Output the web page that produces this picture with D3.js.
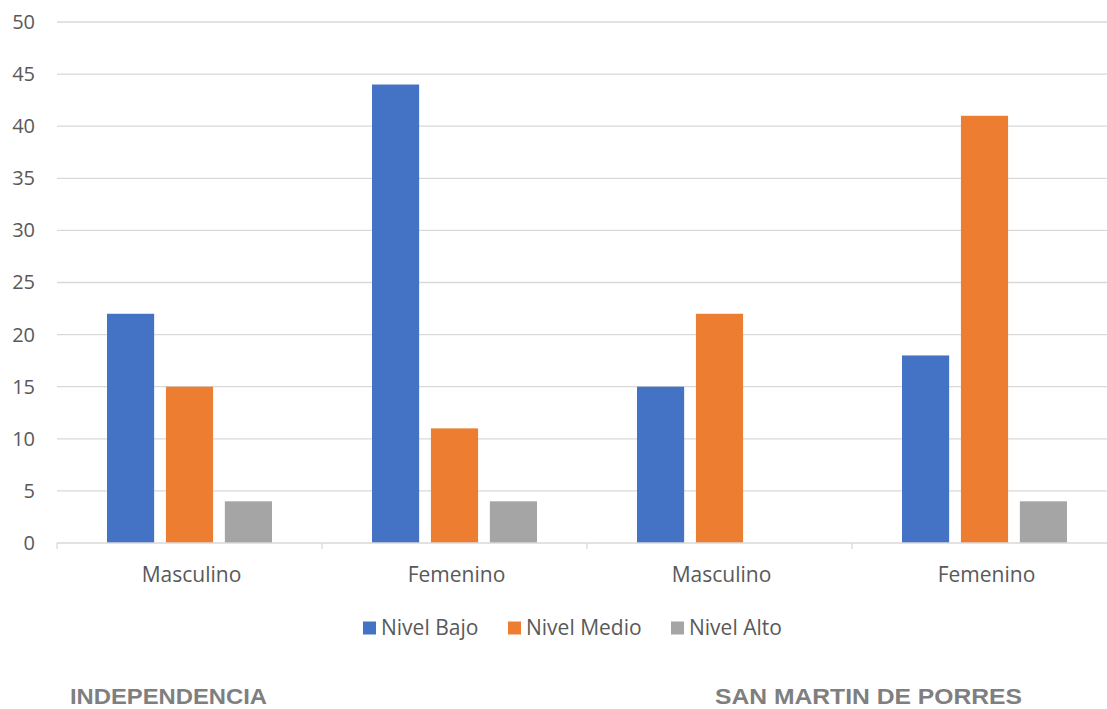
<!DOCTYPE html>
<html>
<head>
<meta charset="utf-8">
<script src="https://cdn.jsdelivr.net/npm/d3@7"></script>
<style>
  html, body { margin: 0; padding: 0; background: #fff; }
  svg { display: block; }
</style>
</head>
<body>
<svg id="chart" width="1107" height="709"></svg>
<script>
// Categories (gender within each district) and the three level series
const categories = ["Masculino", "Femenino", "Masculino", "Femenino"];
const seriesNames = ["Nivel Bajo", "Nivel Medio", "Nivel Alto"];
const nivelBajo  = [22, 44, 15, 18];
const nivelMedio = [15, 11, 22, 41];
const nivelAlto  = [4, 4, 0, 4];
const yTicks = [0, 5, 10, 15, 20, 25, 30, 35, 40, 45, 50];
const districts = ["INDEPENDENCIA", "SAN MARTIN DE PORRES"];
const colors = ["#4472C4", "#ED7D31", "#A5A5A5"];

const seriesValues = [nivelBajo, nivelMedio, nivelAlto];
const rows = categories.map((c, i) => ({
  idx: i,
  label: c,
  values: seriesNames.map((s, k) => ({ key: s, value: seriesValues[k][i], k }))
}));

const svg = d3.select("#chart");
const plotLeft = 57, plotRight = 1117, plotTop = 22, plotBottom = 543;

const x0 = d3.scaleBand().domain(d3.range(categories.length)).range([plotLeft, plotRight]).padding(0);
const x1 = d3.scaleBand().domain(seriesNames).range([50, 215]).paddingInner(0.2).paddingOuter(0);
const y = d3.scaleLinear().domain([0, 50]).range([plotBottom, plotTop]);

const textColor = "#595959";
const axisFont = "'Open Sans', sans-serif";

// Horizontal gridlines
svg.append("g")
  .selectAll("line")
  .data(yTicks.filter(t => t > 0))
  .join("line")
  .attr("x1", plotLeft).attr("x2", plotRight)
  .attr("y1", d => y(d)).attr("y2", d => y(d))
  .attr("stroke", "#d9d9d9").attr("stroke-width", 1.3);

// Y axis labels
const yAxis = svg.append("g")
  .attr("transform", `translate(${plotLeft},0)`)
  .call(d3.axisLeft(y).tickValues(yTicks).tickSize(0).tickPadding(22));
yAxis.select(".domain").remove();
yAxis.selectAll("text")
  .attr("fill", textColor)
  .style("font-family", axisFont)
  .style("font-size", "20px");

// Bars
const groups = svg.append("g")
  .selectAll("g")
  .data(rows)
  .join("g")
  .attr("transform", d => `translate(${x0(d.idx)},0)`);

groups.selectAll("rect")
  .data(d => d.values)
  .join("rect")
  .attr("x", d => x1(d.key))
  .attr("width", x1.bandwidth())
  .attr("y", d => y(d.value))
  .attr("height", d => y(0) - y(d.value))
  .attr("fill", d => colors[d.k]);

// X axis with category boundary ticks
const xAxis = svg.append("g").attr("transform", `translate(0,${plotBottom})`);
xAxis.append("line")
  .attr("x1", plotLeft).attr("x2", plotRight)
  .attr("y1", 0).attr("y2", 0)
  .attr("stroke", "#d9d9d9").attr("stroke-width", 1.3);
xAxis.selectAll("line.tick")
  .data(d3.range(categories.length + 1))
  .join("line")
  .attr("class", "tick")
  .attr("x1", i => plotLeft + i * x0.step()).attr("x2", i => plotLeft + i * x0.step())
  .attr("y1", 0).attr("y2", 6)
  .attr("stroke", "#d9d9d9").attr("stroke-width", 1.3);
xAxis.selectAll("text")
  .data(rows)
  .join("text")
  .attr("x", d => x0(d.idx) + x0.bandwidth() / 2 + 2)
  .attr("y", 39)
  .attr("text-anchor", "middle")
  .attr("fill", textColor)
  .style("font-family", axisFont)
  .style("font-size", "21px")
  .text(d => d.label);

// Legend
const legendItems = [
  { name: seriesNames[0], x: 363 },
  { name: seriesNames[1], x: 508 },
  { name: seriesNames[2], x: 671 }
];
const legend = svg.append("g").attr("transform", "translate(0,628)");
legendItems.forEach((it, k) => {
  legend.append("rect")
    .attr("x", it.x).attr("y", -6.5)
    .attr("width", 13).attr("height", 13)
    .attr("fill", colors[k]);
  legend.append("text")
    .attr("x", it.x + 18).attr("y", 7)
    .attr("fill", textColor)
    .style("font-family", axisFont)
    .style("font-size", "21px")
    .text(it.name);
});

// District titles under the chart
const districtPos = [{ x: 70, len: 197 }, { x: 715, len: 307 }];
svg.append("g")
  .selectAll("text")
  .data(districts)
  .join("text")
  .attr("x", (d, i) => districtPos[i].x)
  .attr("y", 704)
  .attr("textLength", (d, i) => districtPos[i].len)
  .attr("lengthAdjust", "spacingAndGlyphs")
  .attr("fill", "#7f7f7f")
  .style("font-family", "'Liberation Sans', Arial, sans-serif")
  .style("font-weight", "bold")
  .style("font-size", "22px")
  .text(d => d);
</script>
</body>
</html>
